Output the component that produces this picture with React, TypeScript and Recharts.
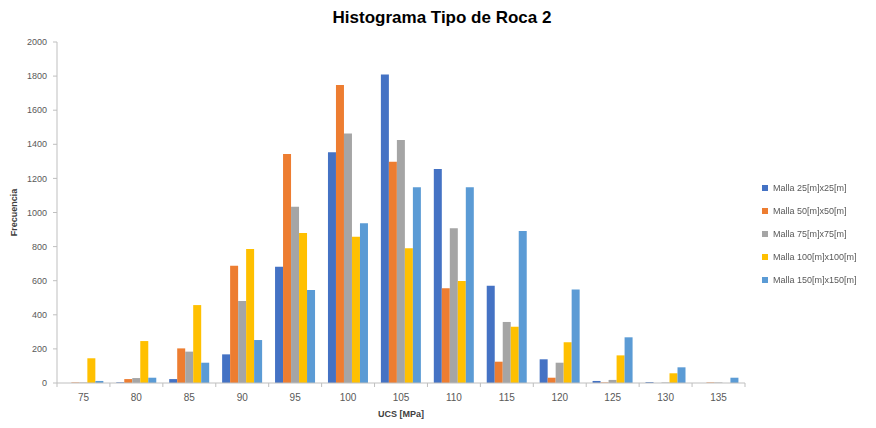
import React from 'react';
import { BarChart, Bar, XAxis, YAxis, Legend } from 'recharts';

const categories = ['75', '80', '85', '90', '95', '100', '105', '110', '115', '120', '125', '130', '135'];
const malla25 = [0, 4, 23, 168, 682, 1353, 1810, 1255, 571, 139, 12, 5, 0];
const malla50 = [3, 23, 203, 688, 1343, 1748, 1298, 555, 125, 31, 3, 0, 3];
const malla75 = [3, 29, 184, 481, 1034, 1464, 1425, 907, 358, 119, 18, 3, 3];
const malla100 = [145, 246, 457, 786, 880, 858, 790, 598, 330, 239, 162, 57, 0];
const malla150 = [12, 31, 119, 252, 545, 937, 1148, 1148, 891, 549, 268, 92, 31];
const yTicks = [0, 200, 400, 600, 800, 1000, 1200, 1400, 1600, 1800, 2000];

const seriesList = [
  { key: 'm25', name: 'Malla 25[m]x25[m]', color: '#4472C4', values: malla25 },
  { key: 'm50', name: 'Malla 50[m]x50[m]', color: '#ED7D31', values: malla50 },
  { key: 'm75', name: 'Malla 75[m]x75[m]', color: '#A5A5A5', values: malla75 },
  { key: 'm100', name: 'Malla 100[m]x100[m]', color: '#FFC000', values: malla100 },
  { key: 'm150', name: 'Malla 150[m]x150[m]', color: '#5B9BD5', values: malla150 },
];

const data = categories.map((c, i) => {
  const row: Record<string, string | number> = { ucs: c };
  seriesList.forEach((s) => {
    row[s.key] = s.values[i];
  });
  return row;
});

const FONT = '"Liberation Sans", Arial, sans-serif';
const TEXT = '#595959';
const AXIS = '#BFBFBF';

const W = 876;
const H = 428;
const PLOT_LEFT = 57;
const PLOT_RIGHT = 745;
const LEGEND_W = 120;
const band = (PLOT_RIGHT - PLOT_LEFT) / categories.length;

// x ticks: label at the centre, tick mark at the category boundary
function XTick(props: any) {
  const { x, y, payload, index } = props;
  const last = index === categories.length - 1;
  return (
    <g>
      <line x1={x - band / 2} x2={x - band / 2} y1={y - 8} y2={y - 4} stroke={AXIS} />
      {last && <line x1={x + band / 2} x2={x + band / 2} y1={y - 8} y2={y - 4} stroke={AXIS} />}
      <text x={x} y={y + 10} textAnchor="middle" fill={TEXT} fontSize={10} fontFamily={FONT}>
        {payload.value}
      </text>
    </g>
  );
}

function LegendBox() {
  return (
    <div style={{ fontFamily: FONT, fontSize: 9, color: TEXT }}>
      {seriesList.map((s) => (
        <div key={s.key} style={{ display: 'flex', alignItems: 'center', height: 23 }}>
          <span style={{ width: 6, height: 6, background: s.color, marginRight: 5, display: 'inline-block' }} />
          <span>{s.name}</span>
        </div>
      ))}
    </div>
  );
}

export default function App() {
  return (
    <div style={{ position: 'fixed', left: 0, top: 0, width: W, height: H, background: '#fff' }}>
      <div
        style={{
          position: 'absolute',
          top: 8,
          left: 0,
          width: W,
          textAlign: 'center',
          fontFamily: FONT,
          fontWeight: 'bold',
          fontSize: 17,
          color: '#000',
          paddingLeft: 4,
        }}
      >
        Histograma Tipo de Roca 2
      </div>
      <BarChart
        width={W}
        height={H}
        data={data}
        margin={{ top: 42, right: W - PLOT_RIGHT - LEGEND_W, left: 0, bottom: 13 }}
        barCategoryGap="12%"
        barGap={0}
      >
        <XAxis
          dataKey="ucs"
          height={32}
          stroke={AXIS}
          tickLine={false}
          tick={<XTick />}
          interval={0}
          label={{ value: 'UCS [MPa]', position: 'insideBottom', offset: -2, fill: '#404040', fontSize: 9, fontWeight: 'bold', fontFamily: FONT }}
        />
        <YAxis
          width={PLOT_LEFT}
          domain={[0, 2000]}
          ticks={yTicks}
          interval={0}
          stroke={AXIS}
          tickSize={4}
          tickMargin={6}
          tick={{ fill: TEXT, fontSize: 9, fontFamily: FONT }}
          label={{ value: 'Frecuencia', angle: -90, position: 'insideLeft', offset: 14, textAnchor: 'middle', fill: '#404040', fontSize: 9, fontWeight: 'bold', fontFamily: FONT }}
        />
        <Legend
          layout="vertical"
          align="right"
          verticalAlign="middle"
          content={<LegendBox />}
          wrapperStyle={{ left: 762, top: 176, width: LEGEND_W }}
        />
        {seriesList.map((s) => (
          <Bar key={s.key} dataKey={s.key} name={s.name} fill={s.color} isAnimationActive={false} />
        ))}
      </BarChart>
    </div>
  );
}
